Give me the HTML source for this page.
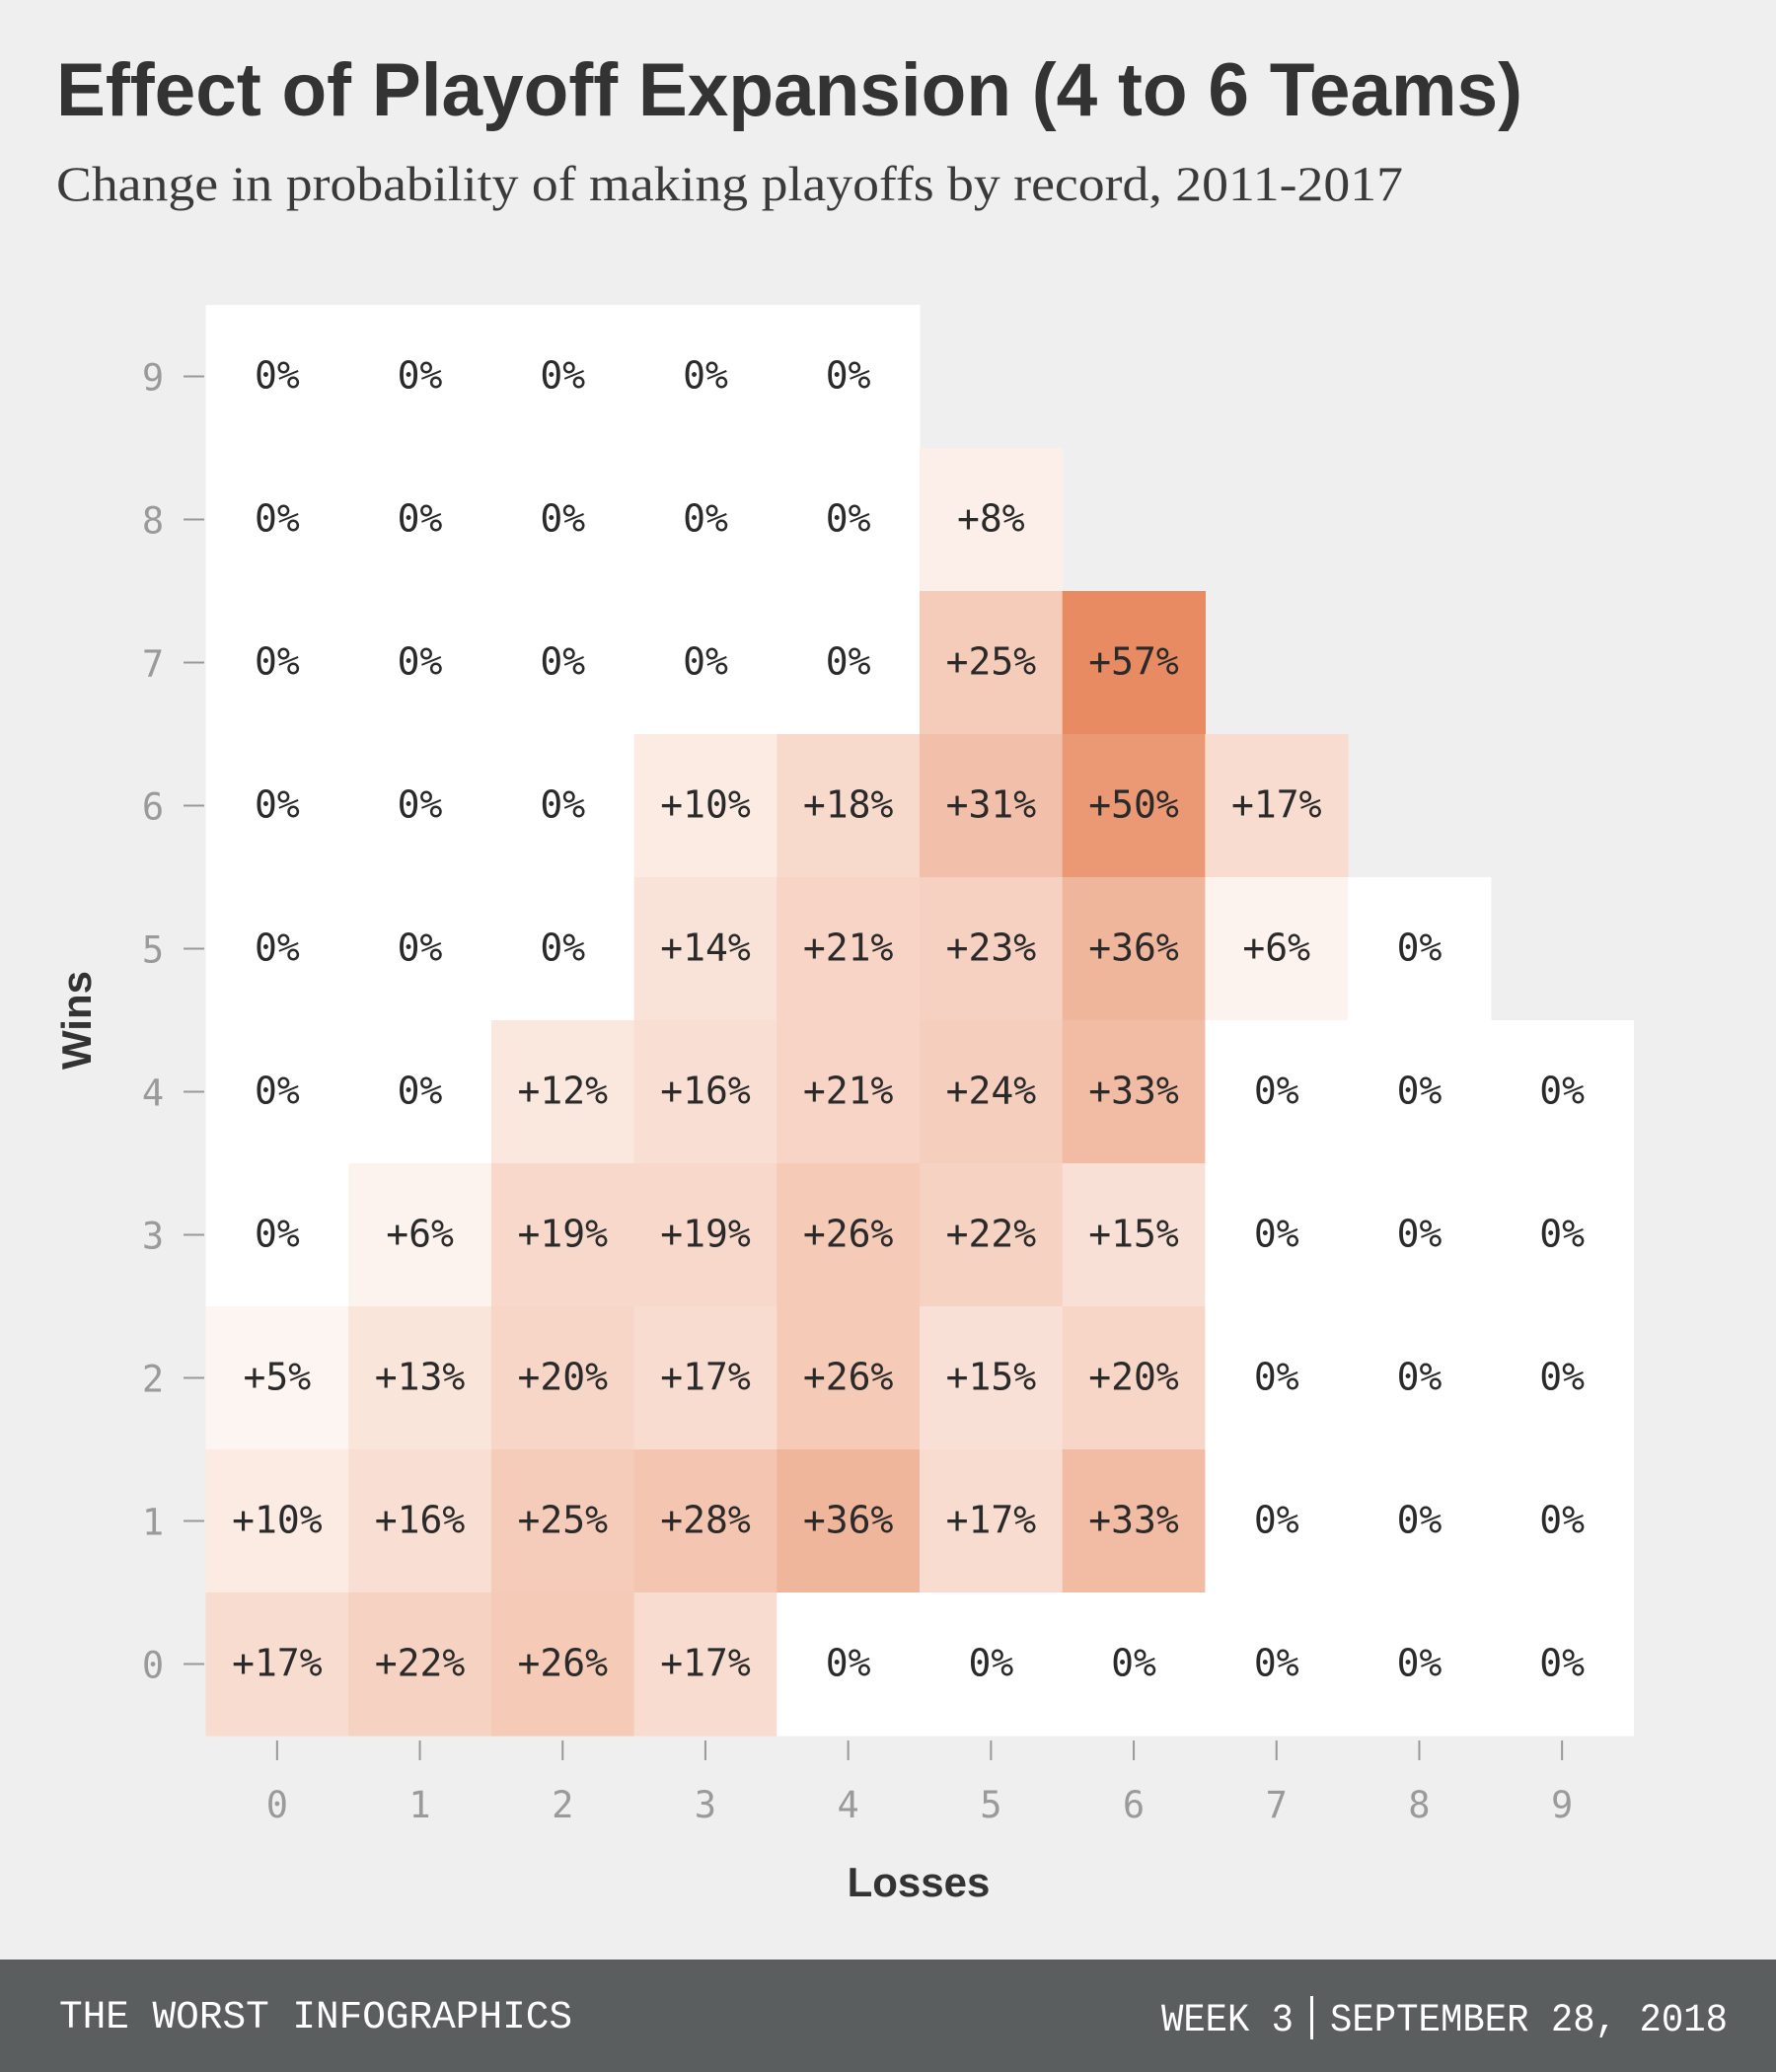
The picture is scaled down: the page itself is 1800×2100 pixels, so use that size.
<!DOCTYPE html>
<html><head><meta charset="utf-8"><style>
html,body{margin:0;padding:0;background:#efefef;}
svg{display:block;}
</style></head><body>
<svg id="chart" width="1800" height="2100" viewBox="0 0 1800 2100" xmlns="http://www.w3.org/2000/svg">
<rect x="0" y="0" width="1800" height="2100" fill="#efefef"/>
<text x="57" y="117" font-family="Liberation Sans, sans-serif" font-weight="bold" font-size="76" fill="#333" textLength="1486" lengthAdjust="spacingAndGlyphs">Effect of Playoff Expansion (4 to 6 Teams)</text>
<text x="57" y="203" font-family="Liberation Serif, serif" font-size="50" fill="#3a3a3a" textLength="1365" lengthAdjust="spacingAndGlyphs">Change in probability of making playoffs by record, 2011-2017</text>
<g id="cells"></g>
<g id="axes"></g>
<text x="931" y="1922" text-anchor="middle" font-family="Liberation Sans, sans-serif" font-weight="bold" font-size="42" fill="#333">Losses</text>
<text transform="translate(92,1034) rotate(-90)" text-anchor="middle" font-family="Liberation Sans, sans-serif" font-weight="bold" font-size="42" fill="#333">Wins</text>
<rect x="0" y="1986" width="1800" height="114" fill="#5b5e5f"/>
<text x="60" y="2055" font-family="Liberation Mono, monospace" font-size="40" fill="#fff" textLength="520" lengthAdjust="spacingAndGlyphs">THE WORST INFOGRAPHICS</text>
<text x="1177" y="2058" font-family="Liberation Mono, monospace" font-size="40" fill="#fff" textLength="134" lengthAdjust="spacingAndGlyphs">WEEK 3</text>
<rect x="1328" y="2023" width="3" height="44" fill="#fff"/>
<text x="1348" y="2058" font-family="Liberation Mono, monospace" font-size="40" fill="#fff" textLength="403" lengthAdjust="spacingAndGlyphs">SEPTEMBER 28, 2018</text>
</svg>
<script>
const losses = [0,1,2,3,4,5,6,7,8,9];
const wins = [9,8,7,6,5,4,3,2,1,0];
const row9 = [0,0,0,0,0,null,null,null,null,null];
const row8 = [0,0,0,0,0,8,null,null,null,null];
const row7 = [0,0,0,0,0,25,57,null,null,null];
const row6 = [0,0,0,10,18,31,50,17,null,null];
const row5 = [0,0,0,14,21,23,36,6,0,null];
const row4 = [0,0,12,16,21,24,33,0,0,0];
const row3 = [0,6,19,19,26,22,15,0,0,0];
const row2 = [5,13,20,17,26,15,20,0,0,0];
const row1 = [10,16,25,28,36,17,33,0,0,0];
const row0 = [17,22,26,17,0,0,0,0,0,0];
const rows = [row9,row8,row7,row6,row5,row4,row3,row2,row1,row0];

const NS = "http://www.w3.org/2000/svg";
const X0 = 208.5, CW = 144.7, Y0 = 309, CH = 145;
const xPos = l => X0 + l * CW;
const yPos = w => Y0 + (9 - w) * CH;
function color(v){
  const t = Math.min(v / 57, 1.1);
  const r = Math.round(255 - t * (255 - 232));
  const g = Math.round(255 - t * (255 - 139));
  const b = Math.round(255 - t * (255 - 98));
  return `rgb(${r},${g},${b})`;
}
const cells = document.getElementById('cells');
rows.forEach((row, ri) => {
  const w = wins[ri];
  row.forEach((v, ci) => {
    if (v === null) return;
    const l = losses[ci];
    const r = document.createElementNS(NS, 'rect');
    r.setAttribute('x', xPos(l)); r.setAttribute('y', yPos(w));
    r.setAttribute('width', CW + 0.6); r.setAttribute('height', CH + 0.6);
    r.setAttribute('fill', color(v));
    
    
    cells.appendChild(r);
    const t = document.createElementNS(NS, 'text');
    t.setAttribute('x', xPos(l) + CW / 2); t.setAttribute('y', yPos(w) + CH / 2 + 12);
    t.setAttribute('text-anchor', 'middle');
    t.setAttribute('font-family', 'DejaVu Sans Mono, monospace');
    t.setAttribute('font-size', '38');
    t.setAttribute('fill', '#2a2a2a');
    t.textContent = v === 0 ? '0%' : '+' + v + '%';
    
    
    cells.appendChild(t);
  });
});
const axes = document.getElementById('axes');
wins.forEach(w => {
  const y = yPos(w) + CH / 2;
  const ln = document.createElementNS(NS, 'line');
  ln.setAttribute('x1', 186); ln.setAttribute('x2', 207); ln.setAttribute('y1', y); ln.setAttribute('y2', y);
  ln.setAttribute('stroke', '#999'); ln.setAttribute('stroke-width', 2);
  
  
  axes.appendChild(ln);
  const t = document.createElementNS(NS, 'text');
  t.setAttribute('x', 155); t.setAttribute('y', y + 14);
  t.setAttribute('text-anchor', 'middle');
  t.setAttribute('font-family', 'DejaVu Sans Mono, monospace');
  t.setAttribute('font-size', '37'); t.setAttribute('fill', '#9a9a9a');
  t.textContent = w;
  
  
  axes.appendChild(t);
});
losses.forEach(l => {
  const x = xPos(l) + CW / 2;
  const ln = document.createElementNS(NS, 'line');
  ln.setAttribute('x1', x); ln.setAttribute('x2', x); ln.setAttribute('y1', 1764); ln.setAttribute('y2', 1784);
  ln.setAttribute('stroke', '#999'); ln.setAttribute('stroke-width', 2);
  
  
  axes.appendChild(ln);
  const t = document.createElementNS(NS, 'text');
  t.setAttribute('x', x); t.setAttribute('y', 1842);
  t.setAttribute('text-anchor', 'middle');
  t.setAttribute('font-family', 'DejaVu Sans Mono, monospace');
  t.setAttribute('font-size', '37'); t.setAttribute('fill', '#9a9a9a');
  t.textContent = l;
  
  
  axes.appendChild(t);
});
</script>
</body></html>
